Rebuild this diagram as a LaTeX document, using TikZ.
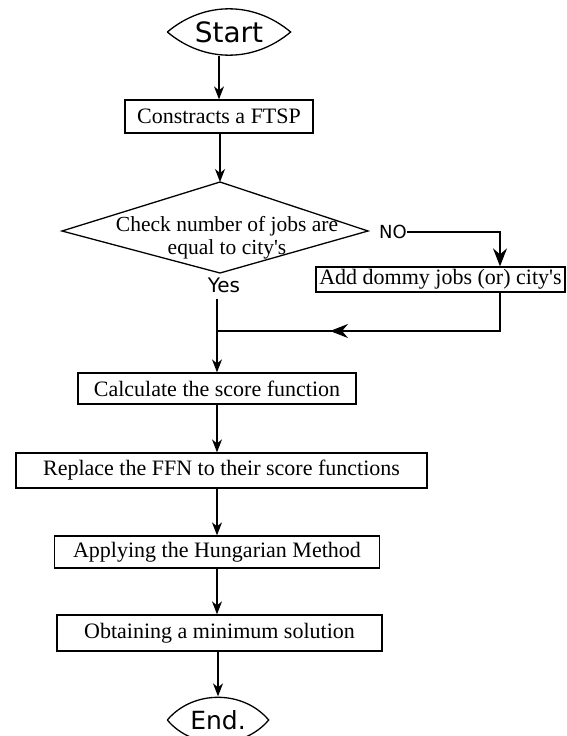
\documentclass[tikz,border=0pt]{standalone}
\usepackage{fontspec}
\setmainfont{Liberation Serif}
\newfontfamily\flowsans{DejaVu Sans}
\usetikzlibrary{arrows.meta,positioning}

\begin{document}
\begin{tikzpicture}[x=1pt, y=-1pt, line width=1.3pt,
  box/.style = {draw, shape = rectangle, inner sep = 0pt, font = \fontsize{22}{24}\selectfont},
  lens/.style = {inner sep = 0pt, font = \flowsans\fontsize{28}{30}\selectfont},
  label/.style = {inner sep = 0pt, font = \flowsans\fontsize{20}{22}\selectfont},
  flow/.style = {-{Stealth[length=13pt, width=10pt, inset=4pt]}},
  bigflow/.style = {-{Stealth[length=18pt, width=14pt, inset=6pt]}}]
\useasboundingbox (0,0) rectangle (566,736);

\node[lens, minimum width = 122pt, minimum height = 46pt] (start) at (229,32) {Start};
\draw (start.west) to[out=40, in=140] (start.east) to[out=-140, in=-40] (start.west);

\node[box, minimum width = 188pt, minimum height = 33pt] (ftsp) at (219,116.5) {Constracts a FTSP};

\coordinate (chkL) at (62,231);
\coordinate (chkT) at (220,182);
\coordinate (chkR) at (368,231);
\coordinate (chkB) at (220,273);
\draw (chkL) -- (chkT) -- (chkR) -- (chkB) -- cycle;
\node[inner sep = 0pt, align = center, font = \fontsize{21.5}{23}\selectfont] (check) at (227,238)
  {Check number of jobs are\\equal to city\textquotesingle s};

\node[label, font = \flowsans\fontsize{18}{20}\selectfont] (no) at (393,232) {NO};
\node[label] (yes) at (224,285) {Yes};

\node[box, minimum width = 249pt, minimum height = 25pt] (add) at (440.5,279.5) {Add dommy jobs (or) city\textquotesingle s};

\node[box, minimum width = 278pt, minimum height = 31pt] (calc) at (217,388.5) {Calculate the score function};
\node[box, minimum width = 411pt, minimum height = 35pt] (ffn) at (221.5,470.5) {Replace the FFN to their score functions};
\node[box, minimum width = 325pt, minimum height = 32pt] (hung) at (217,552) {Applying the Hungarian Method};
\node[box, minimum width = 325pt, minimum height = 36pt] (sol) at (219.5,633) {Obtaining a minimum solution};

\node[lens, minimum width = 100pt, minimum height = 46pt, font = \flowsans\fontsize{25}{28}\selectfont] (end) at (218,720) {End.};
\draw (end.west) to[out=50, in=130] (end.east) to[out=-130, in=-50] (end.west);

\coordinate (rt) at (500,331);
\coordinate (back) at (330,331);
\coordinate (merge) at (calc.north |- rt);

\draw[flow] (start.south -| ftsp.north) -- (ftsp.north);
\draw[flow] (ftsp.south -| chkT) -- (chkT);
\draw[bigflow] (no.east) -| (add.north -| rt);
\draw (add.south -| rt) -- (rt) -- (merge);
\draw[bigflow] (rt) -- (back);
\draw[flow] (yes.south -| calc.north) ++(0,6) -- (calc.north);
\draw[flow] (calc.south) -- (calc.south |- ffn.north);
\draw[flow] (ffn.south -| hung.north) -- (hung.north);
\draw[flow] (hung.south) -- (hung.south |- sol.north);
\draw[flow] (sol.south -| end.north) -- (end.north);
\end{tikzpicture}
\end{document}
